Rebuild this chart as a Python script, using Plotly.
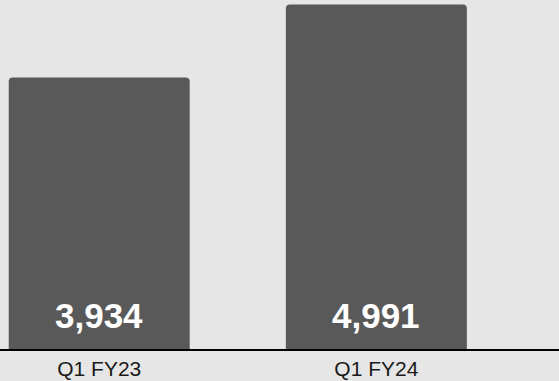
import plotly.graph_objects as go

categories = ["Q1 FY23", "Q1 FY24"]
values = [3934, 4991]
value_labels = ["3,934", "4,991"]

BG = "#e6e6e6"
BAR = "#595959"

fig = go.Figure()
fig.add_trace(go.Bar(
    x=categories,
    y=values,
    marker=dict(color=BAR, line=dict(width=0), cornerradius=4),
    hoverinfo="skip",
))

for c, lbl in zip(categories, value_labels):
    fig.add_annotation(
        x=c, y=0, xref="x", yref="y",
        text=lbl, showarrow=False,
        yanchor="bottom", yshift=12,
        font=dict(family="Liberation Sans, Arial", size=35, color="white", weight="bold"),
    )

fig.update_layout(
    width=559, height=381,
    margin=dict(l=0, r=0, t=0, b=32),
    paper_bgcolor=BG, plot_bgcolor=BG,
    bargap=0.347,
    showlegend=False,
    xaxis=dict(
        range=[-0.358, 1.659],
        showline=True, linecolor="black", linewidth=2,
        showgrid=False, zeroline=False, ticks="",
        tickfont=dict(family="Liberation Sans, Arial", size=21, color="#1a1a1a"),
    ),
    yaxis=dict(
        range=[0, 5058], visible=False, showgrid=False, zeroline=False,
    ),
)

fig.write_html(
    "out.html",
    config={"displayModeBar": False},
    post_script="document.body.style.margin='0';document.body.style.background='%s';document.body.style.overflow='hidden';" % BG,
)
